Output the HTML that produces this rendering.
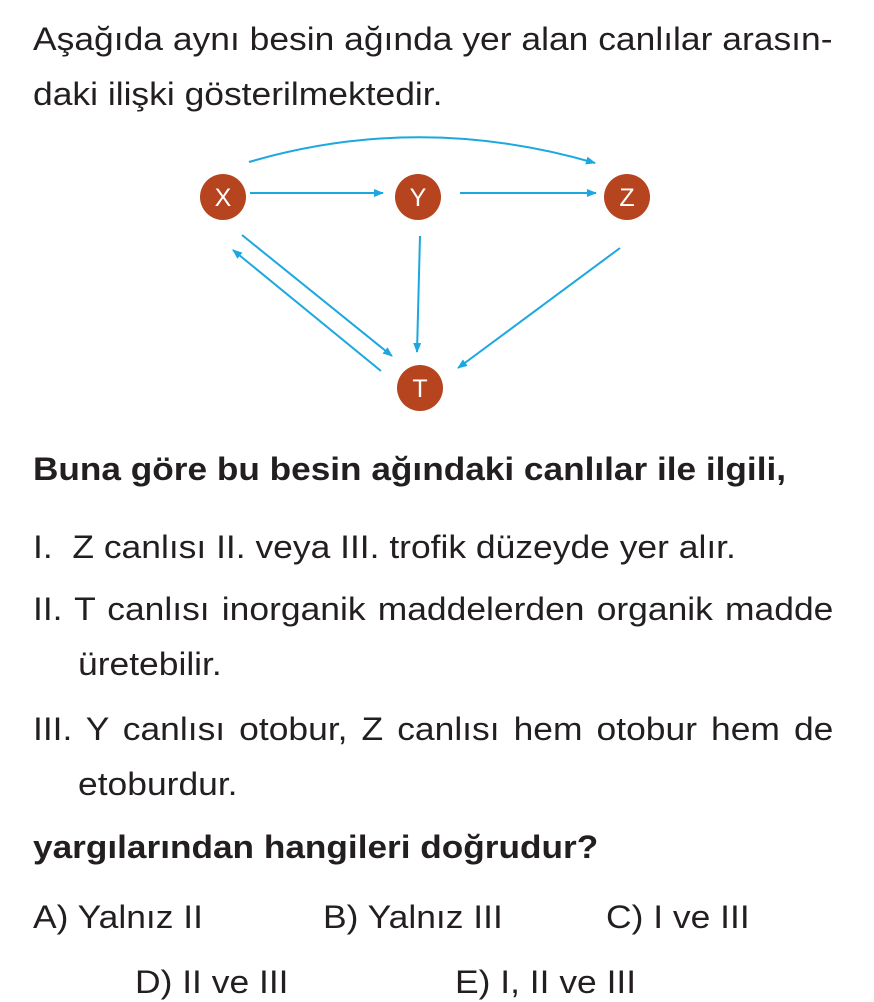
<!DOCTYPE html>
<html><head><meta charset="utf-8"><style>
body{margin:0;width:874px;height:1002px;background:#fff;font-family:"Liberation Sans",Arial,sans-serif;color:#231f20;position:relative;overflow:hidden}
.t{position:absolute;font-size:32px;white-space:nowrap;line-height:1;transform:scaleX(1.107);transform-origin:0 0}
.b{font-weight:bold;transform:scaleX(1.1)}
.j{position:absolute;font-size:32px;line-height:1;text-align:justify;text-align-last:justify;width:723px;transform:scaleX(1.107);transform-origin:0 0}
</style></head><body>
<div class="t" style="left:33px;top:23px">Aşağıda aynı besin ağında yer alan canlılar arasın-</div>
<div class="t" style="left:33px;top:78px">daki ilişki gösterilmektedir.</div>
<svg style="position:absolute;left:0;top:0" width="874" height="440">
<defs><marker id="a" markerWidth="10" markerHeight="8" refX="9" refY="4" orient="auto" markerUnits="userSpaceOnUse"><path d="M0,0 L10,4 L0,8 z" fill="#1ba8e0"/></marker></defs>
<g stroke="#1ba8e0" stroke-width="2" fill="none" marker-end="url(#a)">
<path d="M249,162 Q420,112 595,163"/>
<line x1="250" y1="193" x2="383" y2="193"/>
<line x1="460" y1="193" x2="596" y2="193"/>
<line x1="420" y1="236" x2="417" y2="352"/>
<line x1="620" y1="248" x2="458" y2="368"/>
<line x1="242" y1="235" x2="392" y2="356"/>
<line x1="381" y1="371" x2="233" y2="250"/>
</g>
<g fill="#b5441f"><circle cx="223" cy="197" r="23"/><circle cx="418" cy="197" r="23"/><circle cx="627" cy="197" r="23"/><circle cx="420" cy="388" r="23"/></g>
<g fill="#fff" font-family="Liberation Sans,Arial,sans-serif" font-size="25" text-anchor="middle">
<text x="223" y="206">X</text><text x="418" y="206">Y</text><text x="627" y="206">Z</text><text x="420" y="397">T</text></g>
</svg>
<div class="t b" style="left:33px;top:453px">Buna göre bu besin ağındaki canlılar ile ilgili,</div>
<div class="t" style="left:33px;top:531px">I.&nbsp;&nbsp;Z canlısı II. veya III. trofik düzeyde yer alır.</div>
<div class="j" style="left:33px;top:593px">II. T canlısı inorganik maddelerden organik madde</div>
<div class="t" style="left:78px;top:648px">üretebilir.</div>
<div class="j" style="left:33px;top:713px">III. Y canlısı otobur, Z canlısı hem otobur hem de</div>
<div class="t" style="left:78px;top:768px">etoburdur.</div>
<div class="t b" style="left:33px;top:831px">yargılarından hangileri doğrudur?</div>
<div class="t" style="left:33px;top:901px">A) Yalnız II</div>
<div class="t" style="left:323px;top:901px">B) Yalnız III</div>
<div class="t" style="left:606px;top:901px">C) I ve III</div>
<div class="t" style="left:135px;top:966px">D) II ve III</div>
<div class="t" style="left:455px;top:966px">E) I, II ve III</div>
</body></html>
